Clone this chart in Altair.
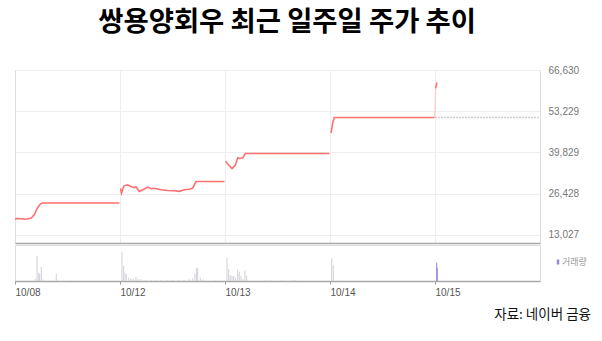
import altair as alt
import pandas as pd

# ---------------- data ----------------
day_labels = ["10/08", "10/12", "10/13", "10/14", "10/15"]
price_ticks = [13027, 26428, 39829, 53229, 66630]

# intraday price (t = day index + fraction of session)
d1_t = [0.000, 0.029, 0.057, 0.095, 0.124, 0.152, 0.181, 0.210, 0.238, 0.257, 0.995]
d1_p = [18250, 18350, 18300, 18150, 18300, 18450, 19500, 21500, 23000, 23400, 23400]

d2_t = [1.005, 1.014, 1.038, 1.074, 1.090, 1.105, 1.136, 1.152, 1.184, 1.231, 1.264,
        1.295, 1.327, 1.390, 1.454, 1.517, 1.565, 1.612, 1.660, 1.692, 1.724, 1.995]
d2_p = [28200, 26600, 29000, 29350, 29000, 28800, 28400, 28700, 27200, 27950, 28600,
        28050, 28200, 27750, 27500, 27400, 27200, 27750, 27900, 28300, 30400, 30400]

d3_t = [2.005, 2.026, 2.067, 2.098, 2.121, 2.143, 2.169, 2.193, 2.995]
d3_p = [37000, 36100, 34600, 35700, 38100, 37900, 38100, 39500, 39500]

d4_t = [3.010, 3.026, 3.041, 3.995]
d4_p = [46100, 49500, 51200, 51200]

gap_t = [4.000, 4.006]
gap_p = [51200, 60700]

d5_t = [4.006, 4.019]
d5_p = [60700, 62600]

prev_close_t = [4.0, 5.0]
prev_close_p = [51200, 51200]

# volume bars (t, volume)
vol_t = [0.193, 0.210, 0.226, 0.235, 0.250, 0.267, 0.393, 0.527,
         1.019, 1.035, 1.048, 1.060, 1.083, 1.105, 1.127, 1.152, 1.174, 1.200, 1.248,
         1.295, 1.343, 1.390, 1.448, 1.505, 1.562, 1.610, 1.660, 1.692, 1.714, 1.730,
         1.740, 1.765, 1.788, 1.914,
         2.019, 2.035, 2.050, 2.067, 2.083, 2.100, 2.121, 2.136, 2.152, 2.171, 2.190,
         2.207, 2.390, 2.438, 2.543, 2.657, 2.676,
         3.016, 3.031, 3.114,
         4.016, 4.022]
vol_v = [1000, 12500, 4150, 3350, 7150, 750, 3650, 350,
         14650, 7500, 4150, 3350, 1650, 1350, 1150, 2000, 1000, 850, 650,
         500, 400, 500, 400, 500, 400, 500, 850, 1150, 3650, 6650,
         6350, 1650, 850, 650,
         11650, 5850, 3000, 2500, 2500, 1500, 5850, 4650, 2500, 1000, 5350,
         2500, 350, 350, 350, 350, 350,
         11350, 8000, 350,
         9150, 6650]

# ---------------- tables ----------------
rows = []
for seg, ts, ps in [("d1", d1_t, d1_p), ("d2", d2_t, d2_p), ("d3", d3_t, d3_p),
                    ("d4", d4_t, d4_p), ("d5", d5_t, d5_p)]:
    rows += [{"seg": seg, "t": t, "p": p} for t, p in zip(ts, ps)]
price_df = pd.DataFrame(rows)
gap_df = pd.DataFrame({"t": gap_t, "p": gap_p})
prev_df = pd.DataFrame({"t": prev_close_t, "p": prev_close_p})
vol_df = pd.DataFrame({"t": vol_t, "v": vol_v})
vol_df["today"] = vol_df["t"] >= 4

label_expr = "[" + ",".join(f"'{d}'" for d in day_labels) + "][datum.value]"

W = 525
xs = alt.Scale(domain=[0, 5], nice=False, zero=False)
ys = alt.Scale(domain=[10428, 66630], nice=False, zero=False)

x_top = alt.X("t:Q", scale=xs, title=None,
              axis=alt.Axis(values=[1, 2, 3, 4], labels=False, ticks=False, grid=True,
                            gridColor="#eeeeee", domainColor="#a9a9a9", domainWidth=1.5))
y_price = alt.Y("p:Q", scale=ys, title=None,
                axis=alt.Axis(orient="right", values=price_ticks, format=",.0f", grid=True,
                              gridColor="#eeeeee", domain=False, ticks=False,
                              labelPadding=8, labelColor="#777777", labelFontSize=10,
                              labelFont="Liberation Sans"))

lines = alt.Chart(price_df).mark_line(color="#ff6f6f", strokeWidth=1.6).encode(
    x=x_top, y=y_price, detail="seg:N")
gap = alt.Chart(gap_df).mark_line(color="#ffd0d0", strokeWidth=1.5).encode(
    x=alt.X("t:Q", scale=xs), y=alt.Y("p:Q", scale=ys))
prev = alt.Chart(prev_df).mark_line(color="#cfcfcf", strokeWidth=1.5, strokeDash=[2, 1]).encode(
    x=alt.X("t:Q", scale=xs), y=alt.Y("p:Q", scale=ys))

price_chart = alt.layer(prev, gap, lines).properties(width=W, height=173)

x_bot = alt.X("t:Q", scale=xs, title=None,
              axis=alt.Axis(values=[0, 1, 2, 3, 4], labelExpr=label_expr, grid=False,
                            labelAlign="left", labelColor="#555555", labelFontSize=10,
                            labelFont="Liberation Sans", tickSize=3, tickColor="#999999",
                            domainColor="#a9a9a9", domainWidth=1.5, labelPadding=3))
bars = alt.Chart(vol_df).mark_rule(strokeWidth=1).encode(
    x=x_bot,
    y=alt.Y("v:Q", scale=alt.Scale(domain=[0, 18000], nice=False), axis=None),
    y2=alt.datum(0),
    color=alt.condition("datum.today", alt.value("#9c84d6"), alt.value("#cfcfd8")),
)
legend_mark = alt.Chart(pd.DataFrame({"k": ["거래량"]})).mark_rule(
    color="#9c84d6", strokeWidth=2.5).encode(
    x=alt.value(543), y=alt.value(14.5), y2=alt.value(19.5))
legend_text = alt.Chart(pd.DataFrame({"k": ["거래량"]})).mark_text(
    align="left", baseline="middle", fontSize=9, color="#999999",
    font="Noto Sans CJK KR").encode(
    x=alt.value(547), y=alt.value(17), text="k:N")
source = alt.Chart(pd.DataFrame({"s": ["자료: 네이버 금융"]})).mark_text(
    align="right", baseline="alphabetic", fontSize=13.5, color="#111111",
    font="Noto Sans CJK KR").encode(
    x=alt.value(576), y=alt.value(74), text="s:N")

vol_chart = alt.layer(bars, legend_mark, legend_text, source).properties(width=W, height=36)

chart = alt.vconcat(price_chart, vol_chart, spacing=0).resolve_scale(
    y="independent").properties(
    title=alt.TitleParams("쌍용양회우 최근 일주일 주가 추이", fontSize=27.4, fontWeight="bold",
                          font="Noto Sans CJK KR", color="#000000", anchor="start",
                          dx=87, offset=28),
    padding={"left": 11, "top": 9, "right": 0, "bottom": 0},
).configure_view(strokeWidth=0).configure(background="white")

chart.save("out.html", embed_options={"renderer": "svg", "actions": False})
